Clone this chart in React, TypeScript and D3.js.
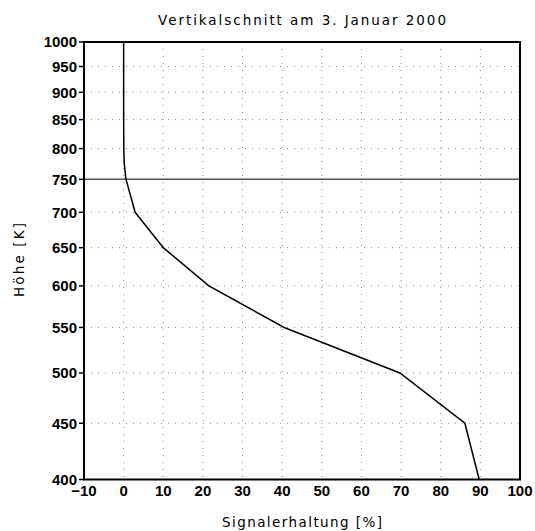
import React from "react";
import * as d3 from "d3";

const levels = [1000, 950, 900, 850, 800, 775, 750, 700, 650, 600, 550, 500, 450, 400];
const signal = [0, 0, 0, 0, 0.05, 0.15, 0.6, 2.9, 10, 21.5, 40.5, 69.7, 86.1, 89.7];
const xTicks = [-10, 0, 10, 20, 30, 40, 50, 60, 70, 80, 90, 100];
const yTicks = [1000, 950, 900, 850, 800, 750, 700, 650, 600, 550, 500, 450, 400];
const refLevel = 750;
const title = "Vertikalschnitt am 3. Januar 2000";
const xTitle = "Signalerhaltung [%]";
const yTitle = "Höhe [K]";

export default function App() {
  const W = 535, H = 531;
  const left = 84, right = 520, top = 42, bottom = 479.5;
  const x = d3.scaleLinear().domain([-10, 100]).range([left, right]);
  const y = d3.scaleLog().domain([400, 1000]).range([bottom, top]);
  const line = d3
    .line<number>()
    .x((_, i) => x(signal[i]))
    .y((d) => y(d));
  const lightFont = "'DejaVu Sans', sans-serif";
  const tickFont = "'Liberation Sans', Arial, sans-serif";
  return (
    <svg
      width={W}
      height={H}
      style={{ position: "absolute", left: 0, top: 0, background: "#fff" }}
    >
      <rect x={0} y={0} width={W} height={H} fill="#fff" />
      {/* grid */}
      {xTicks
        .filter((t) => t > -10 && t < 100)
        .map((t) => (
          <line
            key={"gx" + t}
            x1={x(t)}
            x2={x(t)}
            y1={top}
            y2={bottom}
            stroke="#888"
            strokeWidth={1}
            strokeDasharray="1,6"
          />
        ))}
      {yTicks
        .filter((t) => t > 400 && t < 1000 && t !== refLevel)
        .map((t) => (
          <line
            key={"gy" + t}
            x1={left}
            x2={right}
            y1={y(t)}
            y2={y(t)}
            stroke="#888"
            strokeWidth={1}
            strokeDasharray="1,6"
          />
        ))}
      <line
        x1={left}
        x2={right}
        y1={y(refLevel)}
        y2={y(refLevel)}
        stroke="#555"
        strokeWidth={1.5}
      />
      {/* data */}
      <path d={line(levels) || ""} fill="none" stroke="#000" strokeWidth={1.5} />
      {/* frame */}
      <rect
        x={left}
        y={top}
        width={right - left}
        height={bottom - top}
        fill="none"
        stroke="#000"
        strokeWidth={2}
      />
      {/* y ticks */}
      {yTicks.map((t) => (
        <g key={"yt" + t}>
          <line x1={left - 5} x2={left} y1={y(t)} y2={y(t)} stroke="#000" strokeWidth={1.5} />
          <text
            x={left - 7}
            y={y(t)}
            dy="0.36em"
            textAnchor="end"
            fontFamily={tickFont}
            fontWeight="bold"
            fontSize={15}
          >
            {t}
          </text>
        </g>
      ))}
      {/* x ticks */}
      {xTicks.map((t) => (
        <text
          key={"xt" + t}
          x={x(t)}
          y={496}
          textAnchor="middle"
          fontFamily={tickFont}
          fontWeight="bold"
          fontSize={15}
        >
          {t < 0 ? "\u2212" + Math.abs(t) : t}
        </text>
      ))}
      <text
        x={(left + right) / 2}
        y={25}
        textAnchor="middle"
        fontFamily={lightFont}
        fontSize={13.5}
        fill="#000"
        textLength={288}
        lengthAdjust="spacing"
      >
        {title}
      </text>
      <text
        x={(left + right) / 2}
        y={527}
        textAnchor="middle"
        fontFamily={lightFont}
        fontSize={13.5}
        fill="#000"
        textLength={160}
        lengthAdjust="spacing"
      >
        {xTitle}
      </text>
      <text
        transform={`translate(24, 260) rotate(-90)`}
        textAnchor="middle"
        fontFamily={lightFont}
        fontSize={13.5}
        fill="#000"
        textLength={74}
        lengthAdjust="spacing"
      >
        {yTitle}
      </text>
    </svg>
  );
}
